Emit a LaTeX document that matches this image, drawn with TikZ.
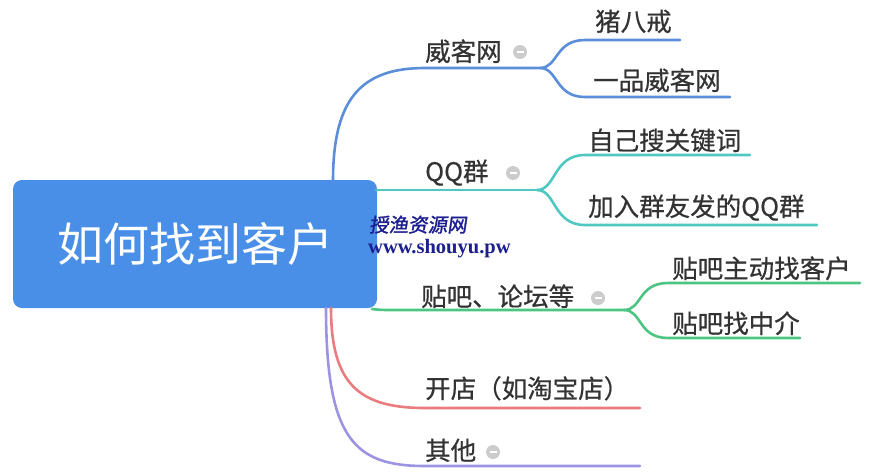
\documentclass[tikz,border=0pt]{standalone}
\usepackage{fontspec}
\newfontfamily\cjk{Noto Sans CJK SC}
\newfontfamily\cjkm[FakeBold=0.6]{Noto Sans CJK SC}
\newfontfamily\cjkw[FakeBold=1.5,FakeSlant=0.15]{Noto Sans CJK SC}
\setmainfont{Liberation Serif}
\definecolor{rootblue}{HTML}{4A8FE7}
\definecolor{lblue}{HTML}{5B8ED8}
\definecolor{lteal}{HTML}{4FC8C2}
\definecolor{lgreen}{HTML}{4CC583}
\definecolor{lred}{HTML}{E97C7E}
\definecolor{lpurple}{HTML}{9D93E3}
\definecolor{txt}{HTML}{333333}
\definecolor{wmblue}{HTML}{1C1F8F}
\begin{document}
\begin{tikzpicture}[x=1pt,y=-1pt,
  lbl/.style={anchor=base west,inner sep=0pt,font=\cjkm\fontsize{25.5}{27}\selectfont,text=txt},
  br/.style={line width=2.6pt,line cap=round},
  fold/.style={circle,fill=black!20,minimum size=14pt,inner sep=0pt,
    path picture={\draw[white,line width=1.6pt] ([xshift=-3.5pt]path picture bounding box.center)--([xshift=3.5pt]path picture bounding box.center);}}]
\useasboundingbox (0,0) rectangle (878,475);
% root
\node[fill=rootblue,rounded corners=9pt,minimum width=364pt,minimum height=128pt,
  text=white,font=\cjk\fontsize{46}{50}\selectfont,inner sep=0pt] (root) at (195,244) {如何找到客户};
% level-1 labels
\node[lbl] (wk) at (425,61) {威客网};
\node[lbl] (qq) at (425,181) {QQ群};
\node[lbl] (tb) at (421,306) {贴吧、论坛等};
\node[lbl] (kd) at (425,398) {开店（如淘宝店）};
\node[lbl] (qt) at (425,460) {其他};
% fold icons
\node[fold] (f1) at (520,52) {};
\node[fold] (f2) at (513,173) {};
\node[fold] (f3) at (598,298) {};
\node[fold] (f4) at (493,452) {};
% level-2 labels
\node[lbl] (zbj) at (595,31) {猪八戒};
\node[lbl] (yp) at (593,90) {一品威客网};
\node[lbl] (zj) at (588,150) {自己搜关键词};
\node[lbl] (jr) at (588,216) {加入群友发的QQ群};
\node[lbl] (zd) at (672,278) {贴吧主动找客户};
\node[lbl] (zj2) at (672,333) {贴吧找中介};
% coordinates
\coordinate (r1) at (333,181);
\coordinate (r2) at (376,190);
\coordinate (r3) at (372,309);
\coordinate (r4) at (331,308);
\coordinate (r5) at (326,308);
\coordinate (k1) at (540,68);
\coordinate (k2) at (537,190);
\coordinate (k3) at (624,310);
% blue branch
\draw[br,lblue] (r1) .. controls (333,100) and (360,68) .. (425,68) -- (k1);
\draw[br,lblue] (k1) .. controls (558,68) and (555,40) .. (585,40) -- (680,40);
\draw[br,lblue] (k1) .. controls (558,68) and (555,97) .. (585,97) -- (730,97);
% teal branch
\draw[br,lteal] (r2) -- (k2);
\draw[br,lteal] (k2) .. controls (556,190) and (553,155) .. (585,155) -- (750,155);
\draw[br,lteal] (k2) .. controls (556,190) and (553,225) .. (585,225) -- (817,225);
% green branch
\draw[br,lgreen] (r3) .. controls (380,310) .. (400,310) -- (k3);
\draw[br,lgreen] (k3) .. controls (642,310) and (638,283) .. (668,283) -- (860,283);
\draw[br,lgreen] (k3) .. controls (642,310) and (638,338) .. (668,338) -- (800,338);
% red branch
\draw[br,lred] (r4) .. controls (331,385) and (360,408) .. (425,408) -- (640,408);
% purple branch
\draw[br,lpurple] (r5) .. controls (326,440) and (355,466) .. (425,466) -- (640,466);
% watermark
\node[anchor=base west,inner sep=0pt,text=wmblue,font=\cjkw\fontsize{19.5}{20}\selectfont] (wm1) at (369,232) {授渔资源网};
\node[anchor=base west,inner sep=0pt,text=wmblue,font=\bfseries\fontsize{20.5}{21}\selectfont] (wm2) at (368,253) {www.shouyu.pw};
\end{tikzpicture}
\end{document}
